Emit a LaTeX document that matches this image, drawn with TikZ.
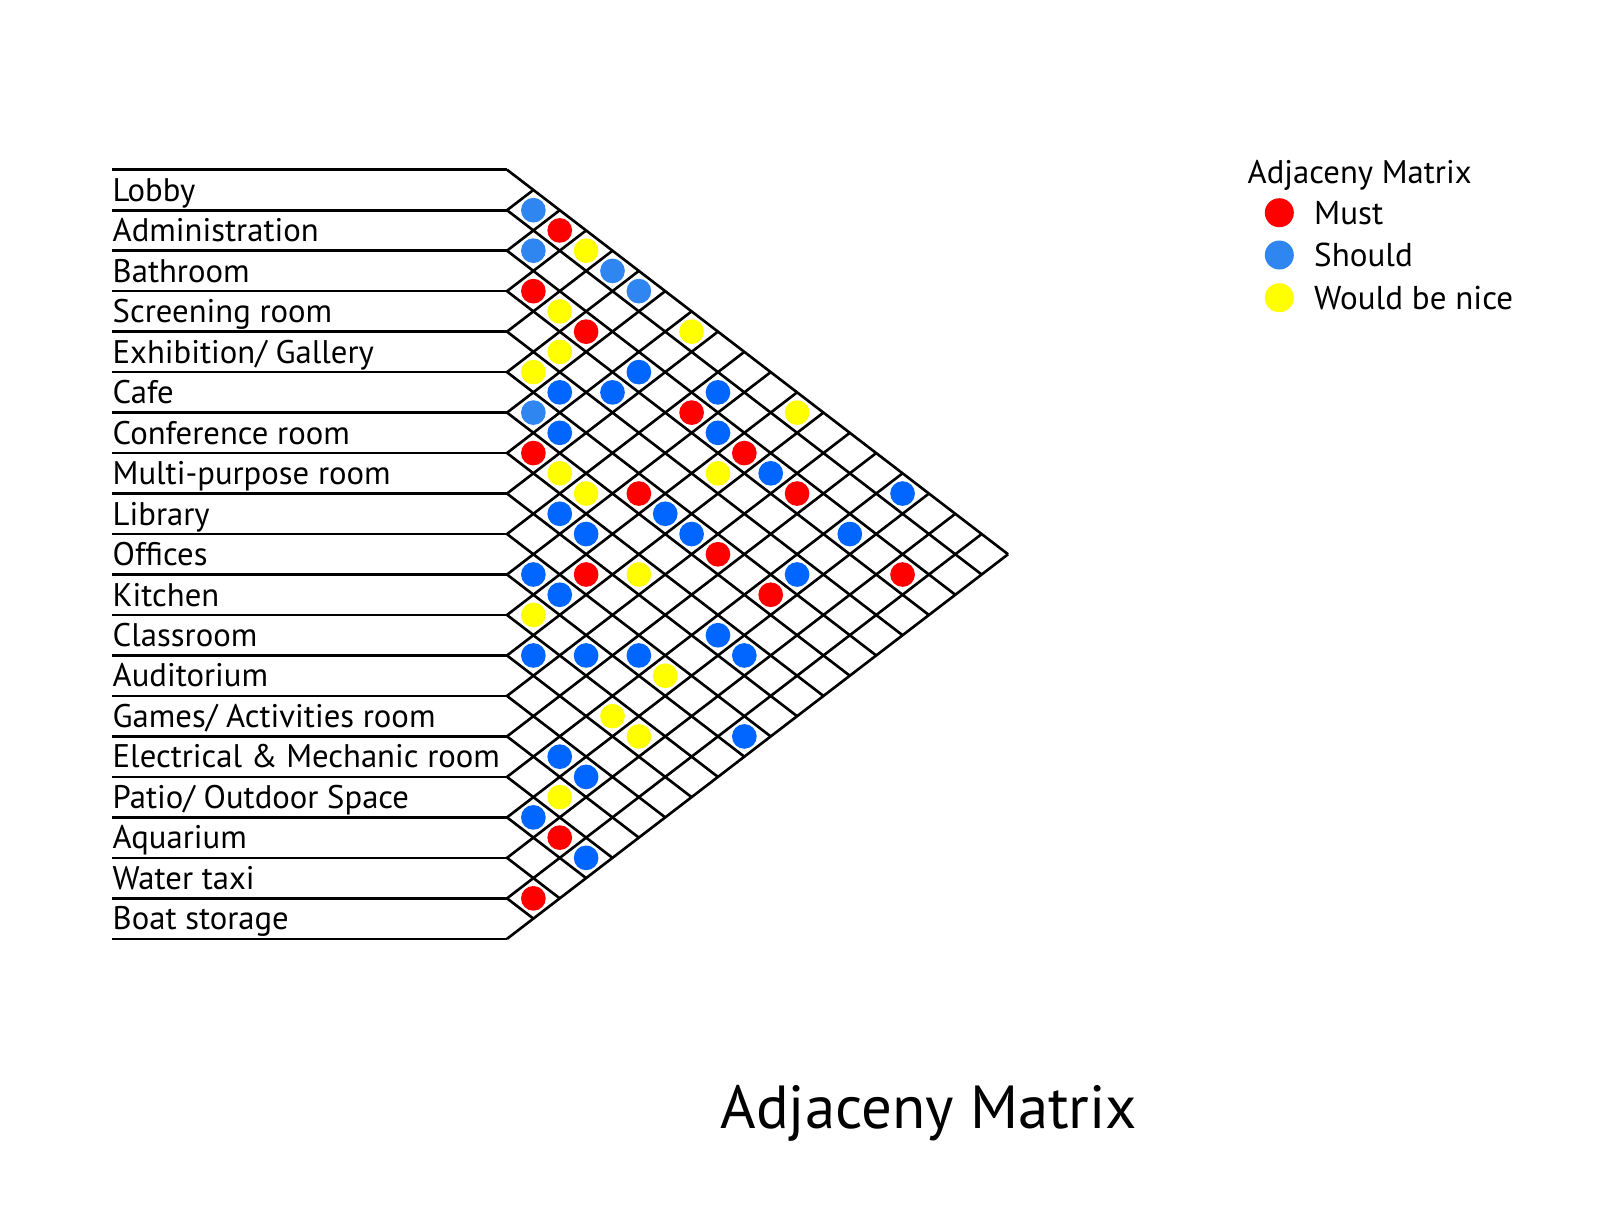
\documentclass[tikz,border=0pt]{standalone}
\usepackage{fontspec}
\setmainfont{PT Sans}
\usetikzlibrary{positioning}

\definecolor{mustred}{RGB}{255,0,0}
\definecolor{shouldblue}{RGB}{0,102,255}
\definecolor{shouldlight}{RGB}{47,134,240}
\definecolor{niceyellow}{RGB}{255,255,0}

\begin{document}
\begin{tikzpicture}[
    room/.style={anchor=base west, inner sep=0pt, font=\fontsize{9.3}{11}\selectfont},
    grid line/.style={line width=0.75pt},
    dot/.style={circle, inner sep=0pt, minimum size=2.47mm},
    must/.style={dot, fill=mustred},
    should/.style={dot, fill=shouldblue},
    should light/.style={dot, fill=shouldlight},
    nice/.style={dot, fill=niceyellow},
    key/.style={circle, inner sep=0pt, minimum size=2.9mm},
    key text/.style={inner sep=0pt, font=\fontsize{9.4}{11}\selectfont}
]
\useasboundingbox (0,0) rectangle (16,-12.11);

% Grid (x runs down-right, y runs up-right)
\begin{scope}[shift={(5.07,-1.697)}, x={(0.2637cm,-0.2024cm)}, y={(-0.2637cm,-0.2024cm)}]
  \foreach \k in {0,...,19} \coordinate (e\k) at (\k,\k);
  \foreach \k in {0,...,18} \draw[grid line] (\k,\k) -- (19,\k);
  \foreach \k in {1,...,19} \draw[grid line] (\k,\k) -- (\k,0);

  % Must
  \foreach \a/\b in {0/2, 2/3, 2/5, 2/9, 6/7, 2/11, 5/10, 2/13, 5/13, 8/11, 2/17, 5/15, 15/17, 17/18}
    \node[must] (d\a-\b) at (\b+.5,\a+.5) {};
  % Should
  \foreach \a/\b in {0/1, 1/2, 0/4, 0/5, 5/6}
    \node[should light] (d\a-\b) at (\b+.5,\a+.5) {};
  \foreach \a/\b in {2/7, 4/6, 3/7, 1/9, 5/7, 2/10, 2/12, 0/15, 7/9, 5/11, 7/10, 5/12, 2/15, 9/10, 4/15,
                     9/11, 7/15, 11/12, 10/13, 9/14, 7/16, 9/18, 13/15, 13/16, 15/16, 15/18}
    \node[should] (d\a-\b) at (\b+.5,\a+.5) {};
  % Would be nice
  \foreach \a/\b in {0/3, 2/4, 0/7, 3/5, 4/5, 0/11, 6/8, 3/11, 6/9, 7/12, 10/11, 9/15, 11/15, 11/16, 14/16}
    \node[nice] (d\a-\b) at (\b+.5,\a+.5) {};
\end{scope}

% Row lines
\coordinate (lft) at (1.12,0);
\foreach \k in {0,...,19} \draw[grid line] (e\k) -- (e\k -| lft);

% Rooms
\node[room] (lobby) at (1.12,-2.012) {Lobby};
\node[room] (admin) at (1.12,-2.417) {Administration};
\node[room] (bath) at (1.12,-2.821) {Bathroom};
\node[room] (screen) at (1.12,-3.226) {Screening room};
\node[room] (gallery) at (1.12,-3.631) {Exhibition/ Gallery};
\node[room] (cafe) at (1.12,-4.036) {Cafe};
\node[room] (conf) at (1.12,-4.440) {Conference room};
\node[room] (multi) at (1.12,-4.845) {Multi-purpose room};
\node[room] (library) at (1.12,-5.250) {Library};
\node[room] (offices) at (1.12,-5.655) {Offices};
\node[room] (kitchen) at (1.12,-6.060) {Kitchen};
\node[room] (class) at (1.12,-6.464) {Classroom};
\node[room] (audit) at (1.12,-6.869) {Auditorium};
\node[room] (games) at (1.12,-7.274) {Games/ Activities room};
\node[room] (mech) at (1.12,-7.679) {Electrical \& Mechanic room};
\node[room] (patio) at (1.12,-8.083) {Patio/ Outdoor Space};
\node[room] (aquarium) at (1.12,-8.488) {Aquarium};
\node[room] (taxi) at (1.12,-8.893) {Water taxi};
\node[room] (boat) at (1.12,-9.298) {Boat storage};

% Legend
\node[anchor=base west, inner sep=0pt, font=\fontsize{9.3}{11}\selectfont] (keytitle) at (12.47,-1.833) {Adjaceny Matrix};
\node[key, fill=mustred] (mustkey) at (12.793,-2.127) {};
\node[key, fill=shouldlight] (shouldkey) at (12.793,-2.55) {};
\node[key, fill=niceyellow] (nicekey) at (12.793,-2.977) {};
\node[key text, right=1.9mm of mustkey] (musttext) {Must};
\node[key text, right=1.9mm of shouldkey] (shouldtext) {Should};
\node[key text, right=1.9mm of nicekey] (nicetext) {Would be nice};

% Title
\node[anchor=base west, inner sep=0pt, font=\fontsize{17.3}{21}\selectfont] (title) at (7.20,-11.283) {Adjaceny Matrix};

\end{tikzpicture}
\end{document}
